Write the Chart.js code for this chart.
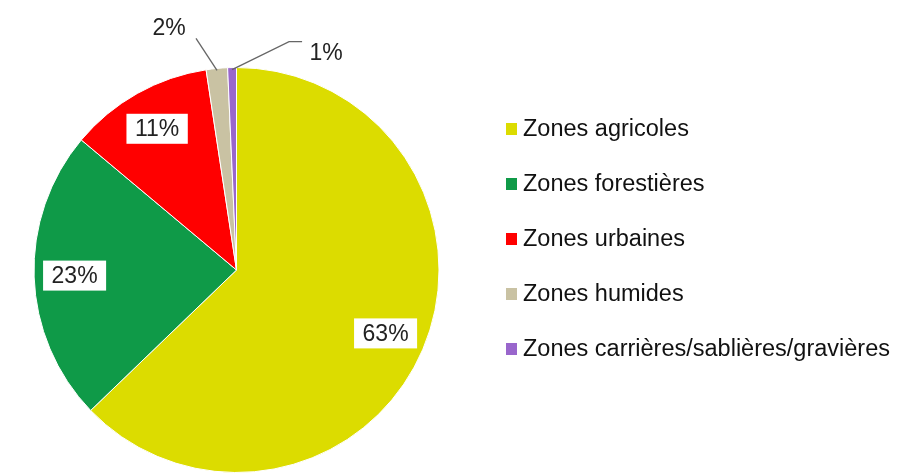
<!DOCTYPE html>
<html>
<head>
<meta charset="utf-8">
<script src="https://cdn.jsdelivr.net/npm/chart.js@4"></script>
<style>
  html, body { margin: 0; padding: 0; background: #fff; }
  #wrap { width: 900px; height: 473px; position: relative; }
</style>
</head>
<body>
<div id="wrap"><canvas id="myChart" width="900" height="473"></canvas></div>
<script>
// données
var categories = ['Zones agricoles', 'Zones forestières', 'Zones urbaines', 'Zones humides', 'Zones carrières/sablières/gravières'];
var values = [62.8, 23.3, 11.5, 1.7, 0.7];
var pctLabels = ['63%', '23%', '11%', '2%', '1%'];
var colors = ['#dcdc00', '#0f9a48', '#ff0000', '#c9c2a3', '#9966cc'];

var FONT = '"Liberation Sans", Arial, sans-serif';

// étiquettes : boîte blanche pour les grandes parts, ligne de rappel pour les petites
var labelPlugin = {
    id: 'pctLabels',
    afterDatasetsDraw: function (chart) {
        var ctx = chart.ctx;
        var arcs = chart.getDatasetMeta(0).data;
        ctx.save();
        ctx.font = '23px ' + FONT;
        ctx.textAlign = 'center';
        ctx.textBaseline = 'middle';
        arcs.forEach(function (arc, i) {
            var mid = (arc.startAngle + arc.endAngle) / 2;
            var r = arc.outerRadius;
            if (i < 3) {
                var x = arc.x + Math.cos(mid) * r * 0.8;
                var y = arc.y + Math.sin(mid) * r * 0.8;
                var w = ctx.measureText(pctLabels[i]).width + 17;
                ctx.fillStyle = '#fff';
                ctx.fillRect(x - w / 2, y - 15, w, 30);
                ctx.fillStyle = '#222';
                ctx.fillText(pctLabels[i], x, y + 1);
            } else {
                var sx = arc.x + Math.cos(mid) * (r - 2);
                var sy = arc.y + Math.sin(mid) * (r - 2);
                ctx.strokeStyle = '#666';
                ctx.lineWidth = 1.3;
                ctx.beginPath();
                ctx.moveTo(sx, sy);
                if (i === 3) {
                    ctx.lineTo(sx - 21, sy - 32);
                    ctx.stroke();
                    ctx.fillStyle = '#222';
                    ctx.fillText(pctLabels[i], sx - 48, sy - 42);
                } else {
                    ctx.lineTo(sx + 57, sy - 28);
                    ctx.lineTo(sx + 70, sy - 28);
                    ctx.stroke();
                    ctx.fillStyle = '#222';
                    ctx.fillText(pctLabels[i], sx + 94, sy - 16);
                }
            }
        });
        ctx.restore();
    }
};

// légende dessinée à la main (carrés + texte)
var legendPlugin = {
    id: 'sideLegend',
    afterDraw: function (chart) {
        var ctx = chart.ctx;
        ctx.save();
        ctx.font = '23.5px ' + FONT;
        ctx.textBaseline = 'middle';
        ctx.textAlign = 'left';
        categories.forEach(function (c, i) {
            var y = 129 + i * 55;
            ctx.fillStyle = colors[i];
            ctx.fillRect(506, y - 6, 11, 12);
            ctx.fillStyle = '#111';
            ctx.fillText(c, 523, y + 1);
        });
        ctx.restore();
    }
};

window.addEventListener('load', function () {
    var ctx = document.getElementById('myChart').getContext('2d');
    new Chart(ctx, {
        type: 'pie',
        data: {
            labels: categories,
            datasets: [{
                data: values,
                backgroundColor: colors,
                borderColor: '#fff',
                borderWidth: 1
            }]
        },
        options: {
            responsive: false,
            animation: false,
            layout: { padding: { left: 33, top: 67, right: 460, bottom: 0 } },
            plugins: {
                legend: { display: false },
                tooltip: { enabled: false }
            }
        },
        plugins: [labelPlugin, legendPlugin]
    });
});
</script>
</body>
</html>
